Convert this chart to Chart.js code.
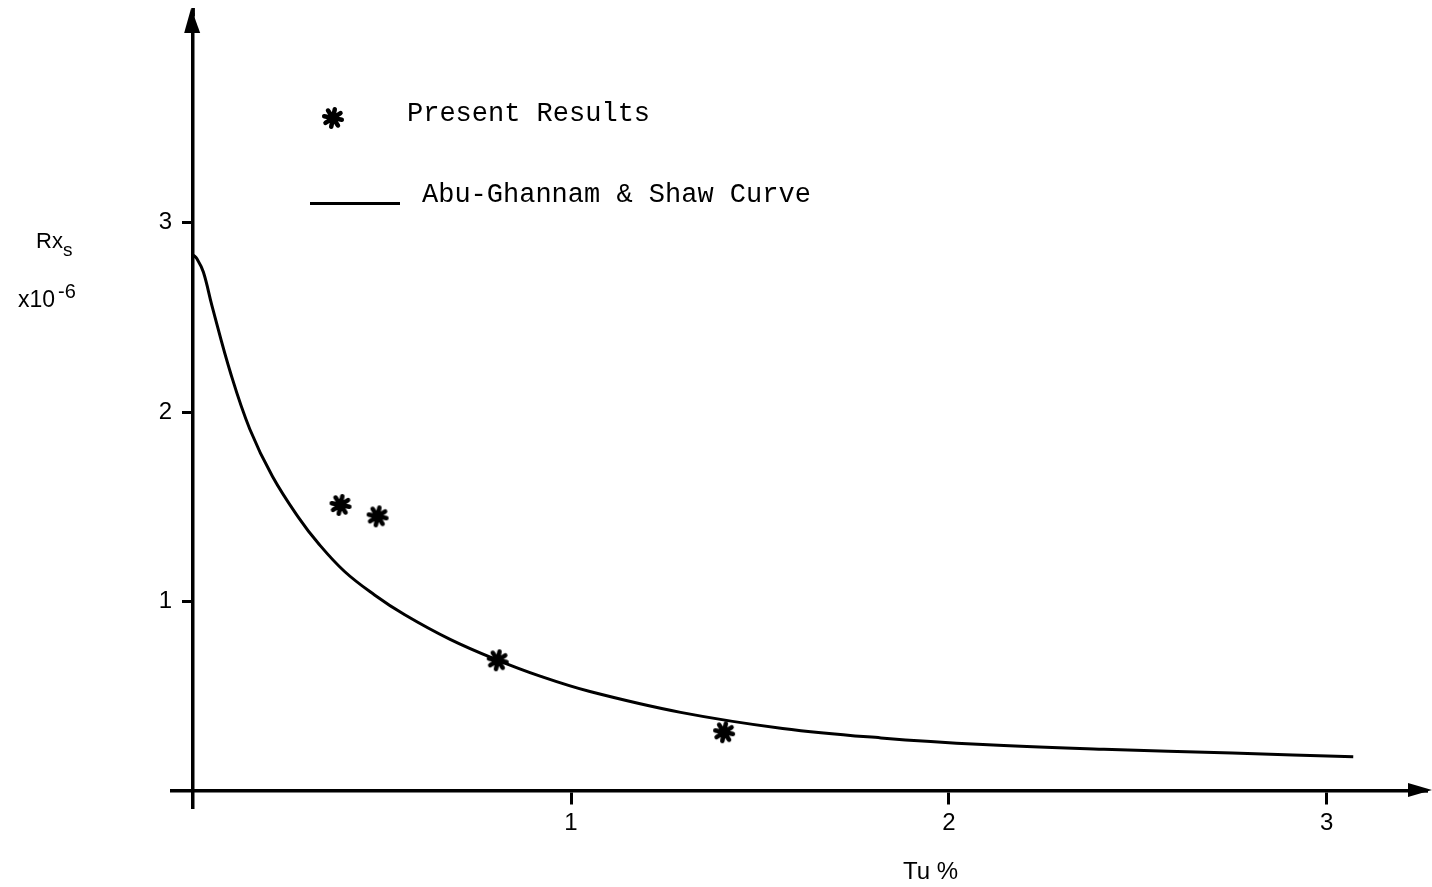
<!DOCTYPE html>
<html>
<head>
<meta charset="utf-8">
<script src="https://cdn.jsdelivr.net/npm/chart.js@4"></script>
<style>
  html, body { margin: 0; padding: 0; background: #fff; }
  #wrap { width: 1432px; height: 887px; position: relative; }
</style>
</head>
<body>
<div id="wrap"><canvas id="rxChart"></canvas></div>
<script>
// Tu % (x) against Rx_s x10^-6 (y)
const curveTu = [0, 0.01, 0.027, 0.05, 0.1, 0.15, 0.21, 0.28, 0.33, 0.4, 0.48, 0.56, 0.68, 0.8, 0.92, 1.05, 1.29, 1.56, 1.82, 2.09, 2.41, 2.75, 3.07];
const curveRx = [2.83, 2.81, 2.74, 2.56, 2.2, 1.91, 1.66, 1.44, 1.31, 1.16, 1.035, 0.93, 0.8, 0.695, 0.605, 0.525, 0.415, 0.33, 0.28, 0.245, 0.22, 0.2, 0.18];

const presentTu = [0.39, 0.488, 0.806, 1.405];
const presentRx = [1.51, 1.45, 0.69, 0.31];

const xTicks = [1, 2, 3];
const yTicks = [1, 2, 3];

const legendLabels = ["Present Results", "Abu-Ghannam & Shaw Curve"];

// asterisk used as the point marker
function makeStar(size) {
  const c = document.createElement("canvas");
  c.width = size; c.height = size;
  const g = c.getContext("2d");
  const r = size / 2 - 3;
  g.strokeStyle = "#000";
  g.lineWidth = 4.5;
  g.lineCap = "round";
  g.translate(size / 2, size / 2);
  for (let i = 0; i < 4; i++) {
    const a = i * Math.PI / 4 + 0.2;
    g.beginPath();
    g.moveTo(-r * Math.cos(a), -r * Math.sin(a));
    g.lineTo(r * Math.cos(a), r * Math.sin(a));
    g.stroke();
  }
  g.beginPath();
  g.arc(0, 0, 6, 0, Math.PI * 2);
  g.fillStyle = "#000";
  g.fill();
  return c;
}
const star = makeStar(24);

// arrows, axis names and the hand-made legend
const extras = {
  id: "extras",
  afterDraw(chart) {
    const ctx = chart.ctx;
    const xs = chart.scales.x, ys = chart.scales.y;
    const x0 = xs.getPixelForValue(0);
    const y0 = ys.getPixelForValue(0);
    const top = chart.chartArea.top;
    const right = chart.chartArea.right;
    ctx.save();
    ctx.fillStyle = "#000";
    // y arrow
    ctx.fillRect(x0 - 1.75, 8, 3.5, top - 8 + 2);
    ctx.beginPath();
    ctx.moveTo(x0 - 2, 8);
    ctx.lineTo(x0 - 9, 33);
    ctx.lineTo(x0 + 7, 33);
    ctx.closePath();
    ctx.fill();
    // x arrow
    ctx.fillRect(right - 2, y0 - 1.75, 1430 - right, 3.5);
    ctx.beginPath();
    ctx.moveTo(1432, y0 - 1);
    ctx.lineTo(1408, y0 - 8);
    ctx.lineTo(1408, y0 + 6);
    ctx.closePath();
    ctx.fill();

    // axis names
    ctx.textBaseline = "alphabetic";
    ctx.textAlign = "left";
    ctx.font = "22px 'Liberation Sans', Arial, sans-serif";
    ctx.fillText("Rx", 36, 248);
    ctx.font = "19px 'Liberation Sans', Arial, sans-serif";
    ctx.fillText("s", 63, 256);
    ctx.font = "23px 'Liberation Sans', Arial, sans-serif";
    ctx.fillText("x10", 18, 307);
    ctx.font = "20px 'Liberation Sans', Arial, sans-serif";
    ctx.fillText("-6", 58, 298);
    ctx.font = "24px 'Liberation Sans', Arial, sans-serif";
    ctx.fillText("Tu %", 903, 879);

    // legend
    ctx.drawImage(star, 333 - 12, 118 - 12);
    ctx.fillRect(310, 202, 90, 3);
    ctx.font = "27px 'Liberation Mono', 'Courier New', monospace";
    ctx.fillText(legendLabels[0], 407, 121);
    ctx.fillText(legendLabels[1], 422, 202);
    ctx.restore();
  }
};

const axisFont = { family: "'Liberation Sans', Arial, sans-serif", size: 24 };

const ctx = document.getElementById("rxChart").getContext("2d");
const rxChart = new Chart(ctx, {
  type: "scatter",
  data: {
    datasets: [
      {
        label: legendLabels[1],
        type: "line",
        data: curveTu.map((t, i) => ({ x: t, y: curveRx[i] })),
        borderColor: "#000",
        borderWidth: 3,
        pointRadius: 0,
        tension: 0.4,
        fill: false
      },
      {
        label: legendLabels[0],
        data: presentTu.map((t, i) => ({ x: t, y: presentRx[i] })),
        pointStyle: star,
        pointRadius: 12
      }
    ]
  },
  options: {
    responsive: true,
    maintainAspectRatio: false,
    animation: false,
    layout: { padding: { left: 132, right: 6, top: 8, bottom: 79 } },
    plugins: {
      legend: { display: false },
      tooltip: { enabled: false }
    },
    scales: {
      x: {
        type: "linear",
        position: { y: 0 },
        min: -0.056,
        max: 3.244,
        afterBuildTicks: (s) => { s.ticks = xTicks.map(v => ({ value: v })); },
        grid: { drawOnChartArea: false, color: "#000", tickLength: 12, tickWidth: 3 },
        border: { color: "#000", width: 3.5 },
        ticks: { color: "#000", font: axisFont, padding: 6, maxRotation: 0 }
      },
      y: {
        type: "linear",
        position: { x: 0 },
        min: -0.09,
        max: 4.1,
        afterBuildTicks: (s) => { s.ticks = yTicks.map(v => ({ value: v })); },
        grid: { drawOnChartArea: false, color: "#000", tickLength: 9, tickWidth: 3 },
        border: { color: "#000", width: 3.5 },
        ticks: { display: false }
      },
      // labels only, sitting just left of the drawn axis
      yLabels: {
        type: "linear",
        position: "left",
        min: -0.09,
        max: 4.1,
        afterBuildTicks: (s) => { s.ticks = yTicks.map(v => ({ value: v })); },
        afterFit: (s) => { s.width = 40; },
        grid: { display: false, drawTicks: false },
        border: { display: false },
        ticks: { color: "#000", font: axisFont, padding: 0 }
      }
    }
  },
  plugins: [extras]
});
</script>
</body>
</html>
